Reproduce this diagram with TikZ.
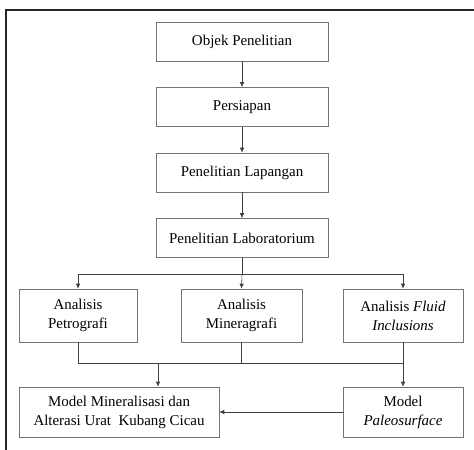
\documentclass[tikz,border=0pt]{standalone}
\usepackage{fontspec}
\setmainfont{Liberation Serif}
\usetikzlibrary{arrows.meta}

\begin{document}
\begin{tikzpicture}[
  x=1bp, y=-1bp,
  step_box/.style={rectangle, draw=black!55, line width=0.6pt, inner sep=2pt, align=center, font=\fontsize{15}{19}\selectfont},
  flow/.style={draw=black!75, line width=0.6pt, -{Latex[length=5pt,width=4.5pt]}},
  link/.style={draw=black!75, line width=0.6pt},
]
\useasboundingbox (0,0) rectangle (474,450);
\draw[line width=1.4pt, black!85] (6,452) -- (6,10) -- (476,10);

\node (obj) [step_box, minimum width=172bp, minimum height=39bp] at (242,41.5) {Objek Penelitian};
\node (pers) [step_box, minimum width=172bp, minimum height=39bp] at (242,107) {Persiapan};
\node (lap) [step_box, minimum width=172bp, minimum height=39bp] at (242,172.5) {Penelitian Lapangan};
\node (lab) [step_box, minimum width=172bp, minimum height=39bp] at (242,238) {Penelitian Laboratorium};

\node (petro) [step_box, minimum width=118bp, minimum height=53bp] at (78,315.5) {Analisis\\Petrografi};
\node (minera) [step_box, minimum width=121bp, minimum height=53bp] at (241.5,315.5) {Analisis\\Mineragrafi};
\node (fluid) [step_box, minimum width=120bp, minimum height=53bp] at (403,315.5) {Analisis \textit{Fluid}\\\textit{Inclusions}};

\node (model) [step_box, minimum width=200bp, minimum height=50bp] at (119,412) {Model Mineralisasi dan\\Alterasi Urat~ Kubang Cicau};
\node (paleo) [step_box, minimum width=120bp, minimum height=50bp] at (403,412) {Model\\\textit{Paleosurface}};

\coordinate (split) at (242,274);
\coordinate (merge) at (242,363);
\coordinate (drop) at (158,363);

\draw[flow] (obj) -- (pers);
\draw[flow] (pers) -- (lap);
\draw[flow] (lap) -- (lab);

\draw[link] (lab) -- (split);
\draw[link] (petro.north |- split) -- (fluid.north |- split);
\draw[flow] (petro.north |- split) -- (petro.north);
\draw[flow] (split) -- (minera.north);
\draw[flow] (fluid.north |- split) -- (fluid.north);

\draw[link] (petro.south) -- (petro.south |- merge) -- (fluid.south |- merge);
\draw[link] (minera.south) -- (minera.south |- merge);
\draw[flow] (fluid.south) -- (paleo.north);
\draw[flow] (drop) -- (drop |- model.north);
\draw[flow] (paleo.west) -- (model.east);
\end{tikzpicture}
\end{document}
